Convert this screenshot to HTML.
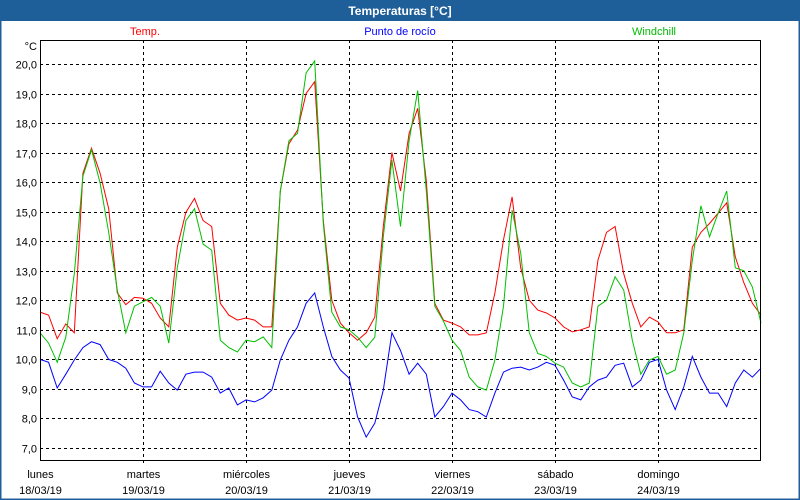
<!DOCTYPE html>
<html><head><meta charset="utf-8"><style>
html,body{margin:0;padding:0;background:#fff;}
svg{display:block;font-family:"Liberation Sans","DejaVu Sans",sans-serif;}
</style></head><body>
<svg id="chart" width="800" height="500" viewBox="0 0 800 500">
  <rect x="0" y="0" width="800" height="500" fill="#fff"/>
  <rect x="0.5" y="0.5" width="799" height="499" fill="none" stroke="#1f5f99" stroke-width="2"/>
  <rect x="0" y="0" width="800" height="21" fill="#1f5f99"/>
  <text x="400" y="15" text-anchor="middle" fill="#fff" font-size="12" font-weight="bold">Temperaturas [°C]</text>
  <text x="145" y="35" text-anchor="middle" fill="#ff0000" font-size="11">Temp.</text>
  <text x="400" y="35" text-anchor="middle" fill="#0000ff" font-size="11">Punto de rocío</text>
  <text x="654" y="35" text-anchor="middle" fill="#00bb00" font-size="11">Windchill</text>
  <text x="37" y="50" text-anchor="end" fill="#000" font-size="11">°C</text>
  <g id="grid"></g>
  <g id="series"></g>
  <g id="axes"></g>
</svg>
<script>
const yTicks = [7,8,9,10,11,12,13,14,15,16,17,18,19,20];
const dayNames = ["lunes","martes","miércoles","jueves","viernes","sábado","domingo"];
const dayDates = ["18/03/19","19/03/19","20/03/19","21/03/19","22/03/19","23/03/19","24/03/19"];
const tempValues = [11.6,11.5,10.7,11.2,10.9,16.3,17.15,16.3,15.1,12.25,11.85,12.1,12.07,
 11.9,11.4,11.1,13.8,14.98,15.45,14.7,14.5,11.9,11.5,11.33,11.4,
 11.33,11.1,11.1,15.7,17.3,17.76,19.0,19.4,14.7,12.0,11.23,10.9,
 10.65,10.9,11.43,14.5,17.0,15.7,17.65,18.5,16.05,11.9,11.33,11.23,
 11.1,10.83,10.83,10.9,12.25,14.05,15.5,13.1,12.0,11.67,11.57,11.4,
 11.1,10.93,11.0,11.1,13.35,14.3,14.5,12.9,11.9,11.1,11.43,11.27,
 10.9,10.9,11.0,13.8,14.3,14.6,14.95,15.3,13.47,12.6,11.9,11.5];
const windchillValues = [10.9,10.55,9.9,10.75,12.9,16.2,17.1,15.97,14.3,12.35,10.9,11.8,11.95,
 12.1,11.8,10.55,13.1,14.7,15.1,13.9,13.7,10.65,10.4,10.25,10.65,
 10.6,10.76,10.4,15.7,17.4,17.65,19.7,20.1,14.6,11.6,11.1,11.0,
 10.75,10.4,10.75,14.15,16.75,14.5,17.4,19.1,15.7,11.8,11.3,10.65,
 10.3,9.4,9.07,8.96,9.98,11.8,15.05,13.6,10.9,10.2,10.1,9.87,
 9.74,9.2,9.07,9.2,11.8,12.0,12.8,12.35,10.65,9.5,9.98,10.1,
 9.5,9.64,10.9,13.35,15.2,14.15,14.95,15.7,13.1,13.0,12.45,11.23];
const dewValues = [10.0,9.9,9.03,9.5,9.98,10.4,10.6,10.5,10.0,9.9,9.7,9.2,9.07,
 9.07,9.6,9.2,8.96,9.5,9.57,9.57,9.4,8.86,9.03,8.46,8.63,
 8.56,8.7,8.96,9.98,10.65,11.1,11.9,12.25,11.1,10.1,9.64,9.37,
 8.05,7.37,7.84,8.96,10.9,10.3,9.5,9.87,9.5,8.05,8.4,8.86,
 8.63,8.3,8.23,8.05,8.86,9.57,9.7,9.74,9.64,9.74,9.9,9.8,
 9.3,8.73,8.63,9.07,9.3,9.4,9.8,9.87,9.07,9.3,9.9,10.0,
 8.96,8.3,9.07,10.1,9.4,8.86,8.86,8.4,9.2,9.64,9.4,9.7];

const X0=40, X1=761, Y0=40, Y1=460;
const ns="http://www.w3.org/2000/svg";
function yScale(v){ return 64 + (20 - v) * (384/13); }
function xScale(i, n){ return X0 + (X1 - X0) * i / (n - 1); }
function dayX(d){ return X0 + (X1 - X0) * d / 7; }
function mk(tag, attrs, parent){ const e=document.createElementNS(ns,tag); for(const k in attrs) e.setAttribute(k, attrs[k]); parent.appendChild(e); return e; }

const grid=document.getElementById('grid');
yTicks.forEach(function(t){
  const y=Math.round(yScale(t))+0.5;
  const l=mk('line',{x1:X0,x2:X1,y1:y,y2:y,stroke:'#000','stroke-dasharray':'3,3','stroke-width':1},grid);
  
  
  const tx=mk('text',{x:37,y:y+4,'text-anchor':'end','font-size':11,fill:'#000'},grid);
  tx.textContent=t.toFixed(1).replace('.',',');
  
  
});
dayNames.forEach(function(nm, d){
  const x=Math.round(dayX(d))+0.5;
  if(d>0){
    const l=mk('line',{x1:x,x2:x,y1:Y0,y2:Y1+5,stroke:'#000','stroke-dasharray':'3,3','stroke-width':1},grid);
    
    
  }
  const t1=mk('text',{x:x,y:478,'text-anchor':'middle','font-size':11,fill:'#000'},grid);
  t1.textContent=nm;
  
  
  const t2=mk('text',{x:x,y:494,'text-anchor':'middle','font-size':11,fill:'#000'},grid);
  t2.textContent=dayDates[d];
  
  
});

const series=document.getElementById('series');
function drawLine(vals, color, name){
  const pts=vals.map(function(v,i){ return xScale(i, vals.length).toFixed(1)+','+yScale(v).toFixed(1); }).join(' ');
  const p=mk('polyline',{points:pts,fill:'none',stroke:color,'stroke-width':1,'stroke-linejoin':'miter'},series);
  
  
}
drawLine(dewValues,'#0000ff','dew-point-line');
drawLine(tempValues,'#ff0000','temp-line');
drawLine(windchillValues,'#00c000','windchill-line');

const axes=document.getElementById('axes');
const fr=mk('rect',{x:X0+0.5,y:Y0+0.5,width:X1-X0-1,height:Y1-Y0,fill:'none',stroke:'#000','stroke-width':1},axes);


</script>
</body></html>
